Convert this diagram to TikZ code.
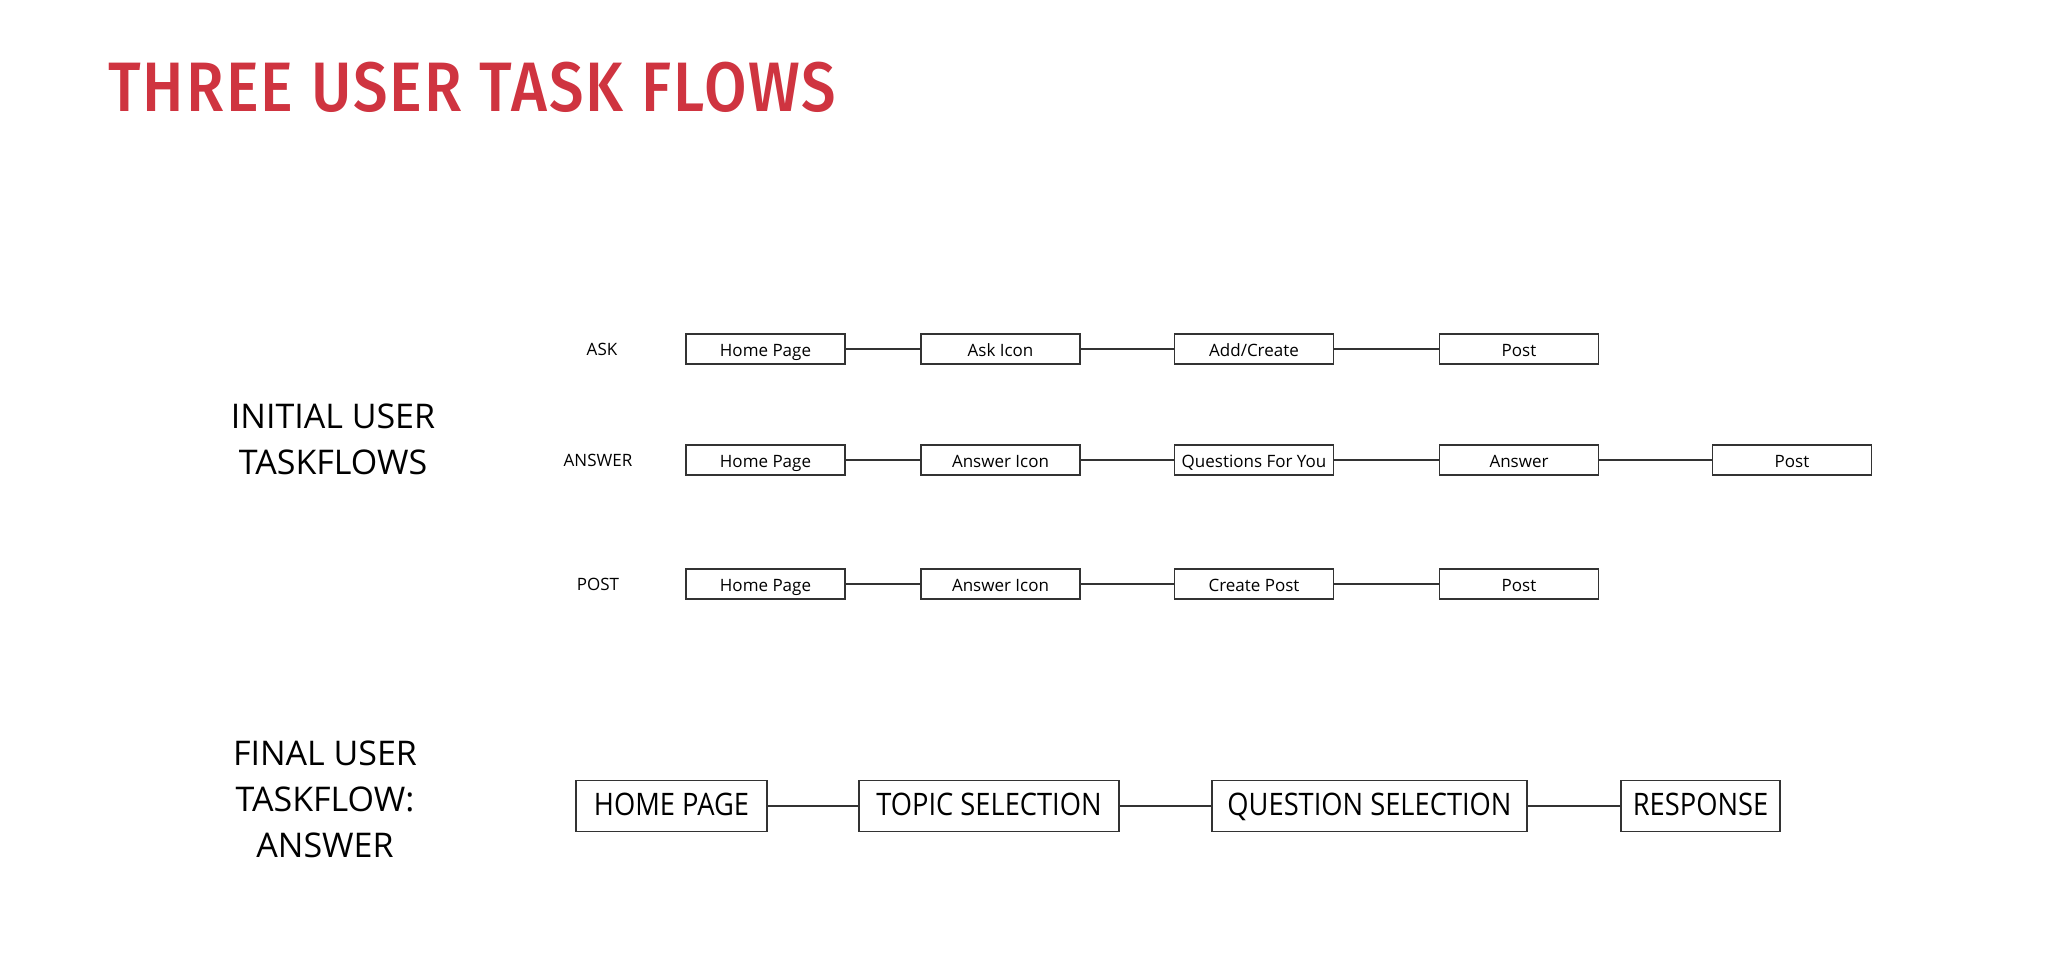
\documentclass[tikz,border=0pt]{standalone}
\usepackage{fontspec}
\setmainfont{Open Sans}
\newfontfamily\titlefont[FakeStretch=0.88,LetterSpace=3]{Fira Sans Medium}
\newfontfamily\condfont[FakeStretch=0.88]{Open Sans}
\definecolor{titlered}{HTML}{CF3440}
\definecolor{linegray}{HTML}{333333}
\begin{document}
\begin{tikzpicture}[x=1pt,y=-1pt,
  sbox/.style={draw=linegray, line width=1.5pt, minimum width=159pt, minimum height=30pt, inner sep=0pt, text height=15pt, text depth=1pt, font=\fontsize{17}{20}\selectfont},
  bbox/.style={draw=linegray, line width=1.5pt, minimum height=51pt, inner sep=0pt, text height=22pt, text depth=3pt, font=\condfont\fontsize{31}{36}\selectfont},
  rowlabel/.style={font=\fontsize{17}{20}\selectfont},
  biglabel/.style={align=center, font=\fontsize{34}{46}\selectfont},
  link/.style={draw=linegray, line width=1.5pt}]
\useasboundingbox (0,0) rectangle (2048,967);
\fill[white] (0,0) rectangle (2048,967);

\node[anchor=base west, text=titlered, font=\titlefont\fontsize{70}{80}\selectfont, inner sep=0pt] (title) at (108,111) {THREE USER TASK FLOWS};

\node[biglabel] (initial) at (333,439) {INITIAL USER\\TASKFLOWS};
\node[biglabel] (final) at (325,799) {FINAL USER\\TASKFLOW:\\ANSWER};

% ASK row
\node[rowlabel] (lask) at (602,349) {ASK};
\node[sbox] (a1) at (765.5,349) {Home Page};
\node[sbox] (a2) at (1000.5,349) {Ask Icon};
\node[sbox] (a3) at (1254,349) {Add/Create};
\node[sbox] (a4) at (1519,349) {Post};
\draw[link] (a1) -- (a2);
\draw[link] (a2) -- (a3);
\draw[link] (a3) -- (a4);

% ANSWER row
\node[rowlabel] (lans) at (598,460) {ANSWER};
\node[sbox] (b1) at (765.5,460) {Home Page};
\node[sbox] (b2) at (1000.5,460) {Answer Icon};
\node[sbox] (b3) at (1254,460) {Questions For You};
\node[sbox] (b4) at (1519,460) {Answer};
\node[sbox] (b5) at (1792,460) {Post};
\draw[link] (b1) -- (b2);
\draw[link] (b2) -- (b3);
\draw[link] (b3) -- (b4);
\draw[link] (b4) -- (b5);

% POST row
\node[rowlabel] (lpost) at (598,584) {POST};
\node[sbox] (c1) at (765.5,584) {Home Page};
\node[sbox] (c2) at (1000.5,584) {Answer Icon};
\node[sbox] (c3) at (1254,584) {Create Post};
\node[sbox] (c4) at (1519,584) {Post};
\draw[link] (c1) -- (c2);
\draw[link] (c2) -- (c3);
\draw[link] (c3) -- (c4);

% Final row
\node[bbox, minimum width=191pt] (d1) at (671.5,806) {HOME PAGE};
\node[bbox, minimum width=260pt] (d2) at (989,806) {TOPIC SELECTION};
\node[bbox, minimum width=315pt] (d3) at (1369.5,806) {QUESTION SELECTION};
\node[bbox, minimum width=159pt] (d4) at (1700.5,806) {RESPONSE};
\draw[link] (d1) -- (d2);
\draw[link] (d2) -- (d3);
\draw[link] (d3) -- (d4);
\end{tikzpicture}
\end{document}
